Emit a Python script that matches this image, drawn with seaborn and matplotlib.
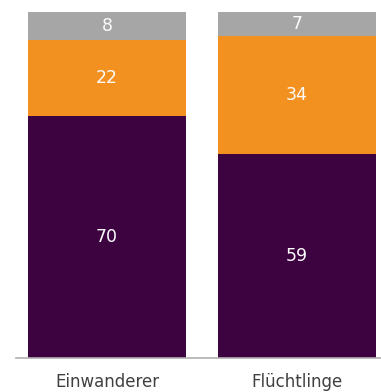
import matplotlib
matplotlib.use("Agg")
import matplotlib.pyplot as plt
import seaborn as sns
import pandas as pd
import numpy as np

categories = ["Einwanderer", "Flüchtlinge"]
bottom_vals = [70, 59]
middle_vals = [22, 34]
top_vals = [8, 7]

colors = ["#3d0340", "#f39120", "#a6a6a6"]

sns.set_theme(style="white")
plt.rcParams['font.family'] = ['DejaVu Sans']

fig = plt.figure(figsize=(3.81, 3.92), dpi=100)
ax = fig.add_axes([0, 1 - 358 / 392, 1.0, (358 - 12) / 392])

df = pd.DataFrame({"cat": categories, "b": bottom_vals, "m": middle_vals, "t": top_vals})
base = np.zeros(len(categories))
for col, color in zip(["b", "m", "t"], colors):
    vals = df[col].to_numpy()
    sns.barplot(data=df, x="cat", y=col, color=color, width=0.832, bottom=base,
                saturation=1, ax=ax, linewidth=0)
    for i, v in enumerate(vals):
        ax.text(i, base[i] + v / 2, str(v), ha="center", va="center",
                color="#fbfbfb", fontsize=12.5)
    base = base + vals

ax.set_xlim(-0.563, 1.442)
ax.set_ylim(0, 100)
ax.set_xlabel("")
ax.set_ylabel("")
ax.set_yticks([])
for s in ["top", "right", "left"]:
    ax.spines[s].set_visible(False)
ax.spines["bottom"].set_color("#b0b0b0")
ax.spines["bottom"].set_linewidth(1.2)
ax.spines["bottom"].set_bounds(-0.48, 1.442)
ax.tick_params(axis="x", length=0, pad=10.5, labelsize=12, labelcolor="#404040")

fig.savefig("out.png", dpi=100)
